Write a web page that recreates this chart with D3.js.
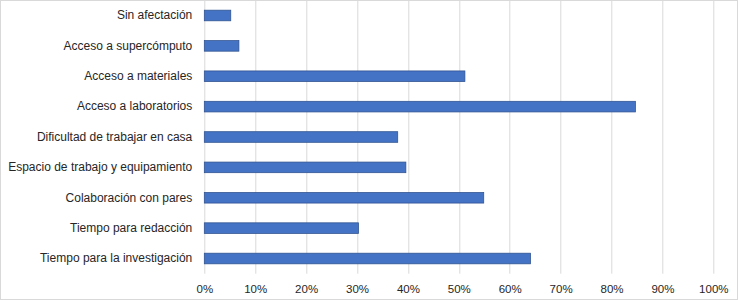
<!DOCTYPE html>
<html lang="es">
<head>
<meta charset="UTF-8">
<title>Afectaciones</title>
<style>
    body { margin: 0; background: #fff; }
    #chart { width: 738px; height: 300px; }
    text { font-family: "Liberation Sans", Arial, sans-serif; fill: #262626; }
</style>
</head>
<body>
<div id="chart"></div>
<script src="https://d3js.org/d3.v7.min.js"></script>
<script>
    // categories, top to bottom
    const categories = [
        "Sin afectación",
        "Acceso a supercómputo",
        "Acceso a materiales",
        "Acceso a laboratorios",
        "Dificultad de trabajar en casa",
        "Espacio de trabajo y equipamiento",
        "Colaboración con pares",
        "Tiempo para redacción",
        "Tiempo para la investigación"
    ];
    const values = [0.052, 0.068, 0.512, 0.847, 0.380, 0.396, 0.549, 0.303, 0.641];
    const xTicks = [0, 0.1, 0.2, 0.3, 0.4, 0.5, 0.6, 0.7, 0.8, 0.9, 1.0];

    const W = 738, H = 300;
    const margin = {top: 0.3, right: 24.7, bottom: 26.3, left: 204.3};
    const w = W - margin.left - margin.right,
          h = H - margin.top - margin.bottom;

    const svg = d3.select("#chart").append("svg")
        .attr("width", W).attr("height", H);

    // outer border
    svg.append("rect")
        .attr("x", 0.5).attr("y", 0.5)
        .attr("width", W - 1).attr("height", H - 1)
        .attr("fill", "none").attr("stroke", "#d9d9d9");

    const g = svg.append("g")
        .attr("transform", `translate(${margin.left},${margin.top})`);

    const x = d3.scaleLinear().domain([0, 1]).range([0, w]);
    const y = d3.scaleBand().domain(categories).range([0, h]).paddingInner(0.65).paddingOuter(0.325);

    // gridlines
    g.selectAll(".grid").data(xTicks).enter().append("line")
        .attr("x1", d => Math.round(x(d)) + 0.5).attr("x2", d => Math.round(x(d)) + 0.5)
        .attr("y1", -1).attr("y2", h)
        .attr("stroke", "#d9d9d9").attr("stroke-width", 1);

    // bars
    g.selectAll(".bar").data(values).enter().append("rect")
        .attr("x", x(0))
        .attr("y", (d, i) => y(categories[i]))
        .attr("width", d => x(d))
        .attr("height", y.bandwidth())
        .attr("fill", "#4472c4")
        .attr("stroke", "#2f528f")
        .attr("stroke-width", 0.75);

    // category labels
    const yAxis = g.append("g").call(d3.axisLeft(y).tickSize(0).tickPadding(12));
    yAxis.select(".domain").remove();
    yAxis.selectAll("text").attr("font-size", 12).attr("fill", "#1a1a1a")
        .style("font-family", "'Liberation Sans', Arial, sans-serif");

    // x axis
    const xAxis = g.append("g").attr("transform", `translate(0,${h})`)
        .call(d3.axisBottom(x).tickValues(xTicks).tickFormat(d3.format(".0%")).tickSize(0).tickPadding(11));
    xAxis.select(".domain").remove();
    xAxis.selectAll("text").attr("font-size", 11.5).attr("fill", "#1a1a1a")
        .style("font-family", "'Liberation Sans', Arial, sans-serif");
</script>
</body>
</html>
